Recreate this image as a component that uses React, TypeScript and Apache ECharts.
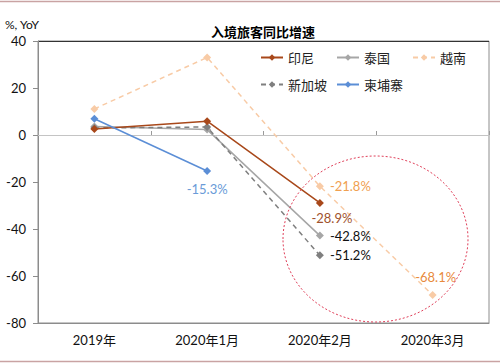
import React, { useEffect, useRef } from "react";
import * as echarts from "echarts";

const categories = ["2019年", "2020年1月", "2020年2月", "2020年3月"];
const indonesia = [2.6, 5.9, -28.9, null];
const thailand = [3.6, 2.3, -42.8, null];
const vietnam = [11.1, 33.0, -21.8, -68.1];
const singapore = [3.0, 3.4, -51.2, null];
const cambodia = [6.9, -15.3, null, null];
const yTicks = { min: -80, max: 40, interval: 20 };

const FONT = 'Lato, "Noto Sans CJK SC", sans-serif';
const CJK = '"Noto Sans CJK SC", sans-serif';

function withLabel(values: (number | null)[], idx: number, label: any) {
  return values.map((v, i) =>
    i === idx ? { value: v, label: { show: true, formatter: (p: any) => p.value.toFixed(1) + "%", fontFamily: FONT, fontSize: 13, ...label } } : v
  );
}

export default function App() {
  const ref = useRef<HTMLDivElement>(null);
  useEffect(() => {
    const chart = echarts.init(ref.current!, null, { renderer: "svg" });
    const mk = (name: string, color: string, data: any[], dashed: boolean, width = 1.5) => ({
      name,
      type: "line",
      data,
      symbol: "diamond",
      symbolSize: 8,
      connectNulls: false,
      itemStyle: { color },
      lineStyle: { color, width, type: dashed ? [5, 4] : "solid" },
      xAxisIndex: 0,
    });
    const option: any = {
      animation: false,
      backgroundColor: "#fff",
      grid: { left: 38, right: 11, top: 41, bottom: 41, show: true, borderColor: "#8c8c8c", borderWidth: 1 },
      title: {
        text: "入境旅客同比增速",
        left: 258,
        top: 20,
        textAlign: "center",
        textStyle: { fontFamily: CJK, fontSize: 13, fontWeight: "bold", color: "#000" },
      },
      legend: [
        {
          data: ["印尼", "泰国", "越南"],
          left: 255,
          top: 46,
          itemWidth: 22,
          itemHeight: 8,
          itemGap: 22,
          textStyle: { fontFamily: CJK, fontSize: 13, color: "#222" },
        },
        {
          data: ["新加坡", "柬埔寨"],
          left: 255,
          top: 73,
          itemWidth: 22,
          itemHeight: 8,
          itemGap: 9,
          textStyle: { fontFamily: CJK, fontSize: 13, color: "#222" },
        },
      ],
      xAxis: [
        {
          type: "category",
          data: categories,
          boundaryGap: true,
          axisLine: { show: true, onZero: false, lineStyle: { color: "#8c8c8c" } },
          axisTick: { show: false },
          axisLabel: { fontFamily: FONT, fontSize: 13, color: "#111", margin: 10 },
          splitLine: { show: false },
        },
        {
          type: "category",
          data: categories,
          position: "bottom",
          boundaryGap: true,
          axisLine: { show: true, onZero: true, lineStyle: { color: "#c4c4c4" } },
          axisTick: { show: true, inside: true, length: 4, lineStyle: { color: "#9a9a9a" } },
          axisLabel: { show: false },
          splitLine: { show: false },
        },
      ],
      yAxis: {
        type: "value",
        min: yTicks.min,
        max: yTicks.max,
        interval: yTicks.interval,
        axisLine: { show: true, lineStyle: { color: "#8c8c8c" } },
        axisTick: { show: true, length: 5, lineStyle: { color: "#8c8c8c" } },
        axisLabel: { fontFamily: FONT, fontSize: 13, color: "#111", margin: 12 },
        splitLine: { show: false },
      },
      series: [
        mk("越南", "#F8CBA6", withLabel(vietnam, 2, { position: "right", distance: 6, color: "#F0A050" }).map((d, i) =>
          i === 3 ? { value: d as number, label: { show: true, formatter: (p: any) => p.value.toFixed(1) + "%", position: "top", distance: 8, offset: [3, 0], color: "#E88A3C", fontFamily: FONT, fontSize: 13 } } : d
        ), true),
        mk("泰国", "#A6A6A6", withLabel(thailand, 2, { position: "right", distance: 6, color: "#111" }), false),
        mk("新加坡", "#7F7F7F", withLabel(singapore, 2, { position: "right", distance: 6, color: "#111" }), true),
        mk("印尼", "#A8481A", withLabel(indonesia, 2, { position: "bottom", distance: 5, offset: [12, 0], color: "#A0522D" }), false),
        mk("柬埔寨", "#5B8ED6", withLabel(cambodia, 1, { position: "bottom", distance: 8, color: "#6A9BD8" }), false),
      ],
      graphic: [
        { type: "line", shape: { x1: 0, y1: 1.5, x2: 500, y2: 1.5 }, style: { stroke: "#C9A3A3", lineWidth: 1.5 } },
        { type: "line", shape: { x1: 0, y1: 361.5, x2: 500, y2: 361.5 }, style: { stroke: "#C9A3A3", lineWidth: 1.5 } },
        { type: "line", shape: { x1: 38, y1: 41.5, x2: 489, y2: 41.5 }, style: { stroke: "#333", lineWidth: 1 } },
        {
          type: "text",
          left: 5,
          top: 18,
          style: { text: "%, YoY", fontFamily: FONT, fontSize: 12, fill: "#111" },
        },
        {
          type: "ellipse",
          shape: { cx: 375.5, cy: 239, rx: 92.5, ry: 83 },
          style: { fill: "none", stroke: "#E0405A", lineWidth: 1, lineDash: [2, 2] },
          z: 10,
        },
      ],
    };
    chart.setOption(option);
    return () => chart.dispose();
  }, []);
  return <div ref={ref} style={{ position: "fixed", left: 0, top: 0, width: 500, height: 364 }} />;
}
